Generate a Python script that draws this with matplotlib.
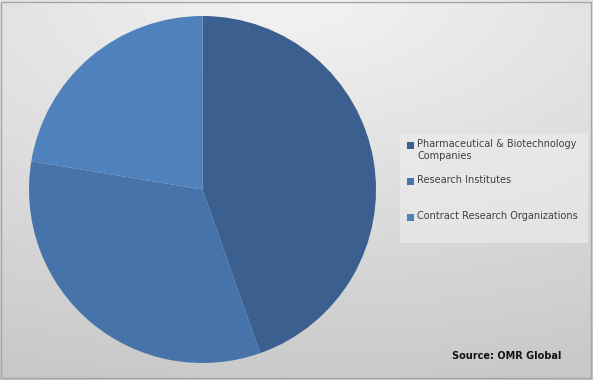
import numpy as np
import matplotlib.pyplot as plt
from matplotlib.patches import Rectangle

# market share by end user
labels = ['Pharmaceutical & Biotechnology\nCompanies', 'Research Institutes', 'Contract Research Organizations']
shares = [44.6, 33.0, 22.4]
colors = ['#3b5f8f', '#4673a9', '#4f81bd']

fig = plt.figure(figsize=(5.93, 3.80), dpi=100)

# gray gradient background
bg = fig.add_axes([0, 0, 1, 1])
yy, xx = np.mgrid[0:1:200j, 0:1:300j]
grad = 0.95 - 0.16 * np.sqrt(((xx - 0.5) / 1.3) ** 2 + (yy / 1.0) ** 2)
bg.imshow(grad, cmap='gray', vmin=0, vmax=1, extent=[0, 1, 0, 1], aspect='auto', origin='upper')
bg.add_patch(Rectangle((0.002, 0.004), 0.994, 0.99, fill=False, edgecolor='#a6a6a6', lw=1))
bg.set_xlim(0, 1)
bg.set_ylim(0, 1)
bg.axis('off')

# pie
ax = fig.add_axes([29 / 593, 1 - 363 / 380, 347 / 593, 347 / 380])
ax.pie(shares, colors=colors, startangle=90, counterclock=False,
       wedgeprops=dict(linewidth=0))
ax.set_xlim(-1, 1)
ax.set_ylim(-1, 1)
ax.set_aspect('equal')

# legend box
bg.add_patch(Rectangle((400 / 593, 1 - 243 / 380), 188 / 593, 109 / 380,
                       facecolor='#eeeeee', edgecolor='none', alpha=0.6))
ypos = [145, 181, 217]
for lab, c, y in zip(labels, colors, ypos):
    fig.patches.append(Rectangle((407 / 593, 1 - (y + 4) / 380), 7 / 593, 7 / 380,
                                 facecolor=c, edgecolor='none', transform=fig.transFigure))
    fig.text(417 / 593, 1 - (y - 6) / 380, lab, fontsize=7, color='#404040',
             va='top', ha='left', linespacing=1.25)

fig.text(452 / 593, 1 - 356 / 380, 'Source: OMR Global', fontsize=7, fontweight='bold',
         color='#111111', va='center', ha='left')

fig.savefig('out.png', dpi=100)
